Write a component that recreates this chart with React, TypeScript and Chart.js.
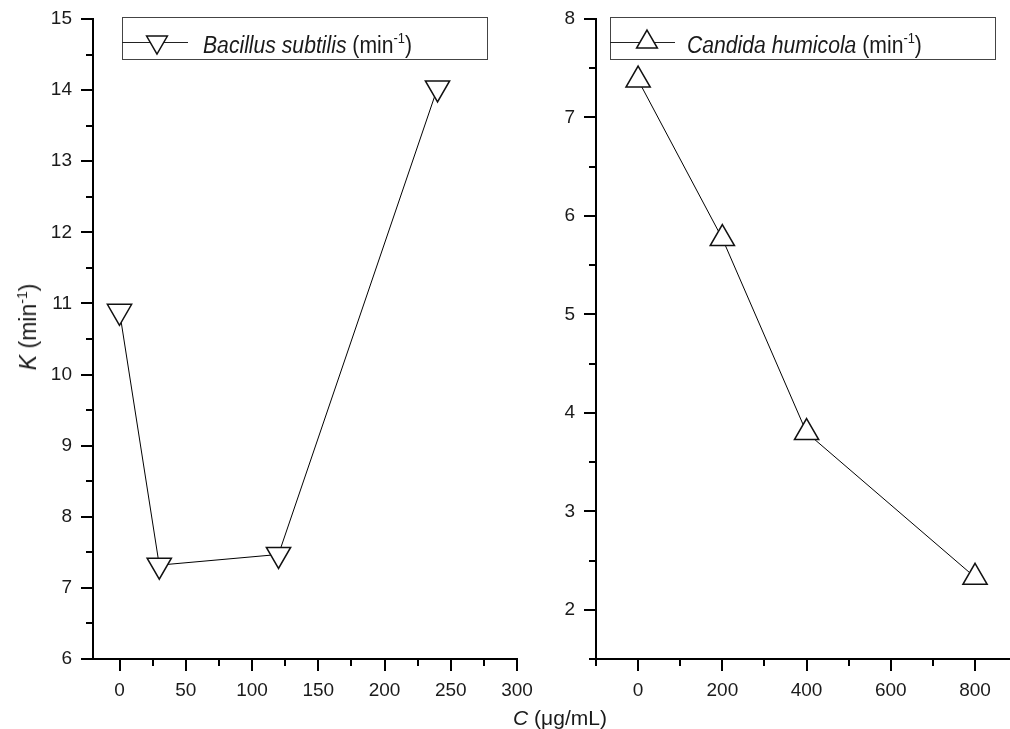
import React, { useEffect, useRef } from "react";
import { Chart, registerables } from "chart.js";

Chart.register(...registerables);

// ---------- data ----------
const bacillusC = [0, 30, 120, 240];
const bacillusK = [10.89, 7.32, 7.47, 14.03];
const candidaC = [0, 200, 400, 800];
const candidaK = [7.38, 5.77, 3.8, 2.33];

const bacillusName = "Bacillus subtilis";
const candidaName = "Candida humicola";
const unitText = " (min";
const unitSup = "-1";

// ---------- axis ticks ----------
const leftXMajor = [0, 50, 100, 150, 200, 250, 300];
const leftXMinor = [25, 75, 125, 175, 225, 275];
const leftYMajor = [6, 7, 8, 9, 10, 11, 12, 13, 14, 15];
const leftYMinor = [6.5, 7.5, 8.5, 9.5, 10.5, 11.5, 12.5, 13.5, 14.5];
const rightXMajor = [0, 200, 400, 600, 800];
const rightXMinor = [-100, 100, 300, 500, 700];
const rightYMajor = [2, 3, 4, 5, 6, 7, 8];
const rightYMinor = [1.5, 2.5, 3.5, 4.5, 5.5, 6.5, 7.5];

const FONT = '"Liberation Sans", Arial, sans-serif';

const tickMarksPlugin = {
  id: "tickMarks",
  afterDraw(chart: any, _args: any, opts: any) {
    const { ctx, chartArea, scales } = chart;
    ctx.save();
    ctx.strokeStyle = "#000";
    ctx.lineWidth = 2;
    const drawX = (vals: number[], len: number) =>
      vals.forEach((v) => {
        const px = Math.round(scales.x.getPixelForValue(v));
        ctx.beginPath();
        ctx.moveTo(px, chartArea.bottom);
        ctx.lineTo(px, chartArea.bottom + len);
        ctx.stroke();
      });
    const drawY = (vals: number[], len: number) =>
      vals.forEach((v) => {
        const py = Math.round(scales.y.getPixelForValue(v));
        ctx.beginPath();
        ctx.moveTo(chartArea.left, py);
        ctx.lineTo(chartArea.left - len, py);
        ctx.stroke();
      });
    drawX(opts.xMajor, 12);
    drawX(opts.xMinor, 7);
    drawY(opts.yMajor, 12);
    drawY(opts.yMinor, 7);
    ctx.restore();
  },
};

const legendPlugin = {
  id: "boxLegend",
  afterDraw(chart: any, _args: any, opts: any) {
    const { ctx } = chart;
    ctx.save();
    // box
    ctx.strokeStyle = "#444";
    ctx.lineWidth = 1;
    ctx.strokeRect(opts.x1 + 0.5, opts.y1 + 0.5, opts.x2 - opts.x1, opts.y2 - opts.y1);
    // sample line
    ctx.strokeStyle = "#222";
    ctx.beginPath();
    ctx.moveTo(opts.x1, opts.lineY + 0.5);
    ctx.lineTo(opts.lineX2, opts.lineY + 0.5);
    ctx.stroke();
    // marker
    const r = opts.r;
    const rad0 = (opts.rotation * Math.PI) / 180;
    const cx = opts.markerX;
    const cy = opts.lineY;
    ctx.beginPath();
    for (let i = 0; i < 3; i++) {
      const a = rad0 + (i * 2 * Math.PI) / 3;
      const px = cx + Math.sin(a) * r;
      const py = cy - Math.cos(a) * r;
      if (i === 0) ctx.moveTo(px, py);
      else ctx.lineTo(px, py);
    }
    ctx.closePath();
    ctx.fillStyle = "#fff";
    ctx.fill();
    ctx.lineWidth = 1.5;
    ctx.strokeStyle = "#111";
    ctx.stroke();
    // text (slightly condensed, as in the source figure)
    const sx = 0.92;
    ctx.translate(opts.textX, opts.baseline);
    ctx.scale(sx, 1);
    ctx.fillStyle = "#1a1a1a";
    ctx.textBaseline = "alphabetic";
    ctx.textAlign = "left";
    let x = 0;
    ctx.font = `italic 23px ${FONT}`;
    ctx.fillText(opts.name, x, 0);
    x += ctx.measureText(opts.name).width;
    ctx.font = `23px ${FONT}`;
    ctx.fillText(unitText, x, 0);
    x += ctx.measureText(unitText).width;
    ctx.font = `14px ${FONT}`;
    ctx.fillText(unitSup, x, -10);
    x += ctx.measureText(unitSup).width;
    ctx.font = `23px ${FONT}`;
    ctx.fillText(")", x, 0);
    ctx.restore();
  },
};

function makeConfig(p: any) {
  return {
    type: "line",
    data: {
      datasets: [
        {
          data: p.xs.map((x: number, i: number) => ({ x, y: p.ys[i] })),
          borderColor: "#000",
          borderWidth: 1,
          pointStyle: "triangle",
          pointRotation: p.rotation,
          pointRadius: 14,
          pointHoverRadius: 14,
          pointBorderWidth: 1.5,
          pointBorderColor: "#111",
          pointBackgroundColor: "#fff",
          tension: 0,
          fill: false,
          clip: false,
        },
      ],
    },
    options: {
      animation: false,
      responsive: false,
      events: [],
      layout: { padding: p.padding, autoPadding: false },
      plugins: {
        legend: { display: false },
        tooltip: { enabled: false },
        tickMarks: { xMajor: p.xMajor, xMinor: p.xMinor, yMajor: p.yMajor, yMinor: p.yMinor },
        boxLegend: p.legend,
      },
      scales: {
        x: {
          type: "linear",
          min: p.xMin,
          max: p.xMax,
          grid: { display: false, drawTicks: false },
          border: { display: true, color: "#000", width: 2 },
          afterBuildTicks: (s: any) => {
            s.ticks = p.xMajor.map((v: number) => ({ value: v }));
          },
          afterFit: (s: any) => {
            s.height = p.xHeight;
            s.paddingLeft = 0;
            s.paddingRight = 0;
          },
          ticks: {
            color: "#1a1a1a",
            font: { family: FONT, size: 19 },
            padding: 20,
            maxRotation: 0,
            autoSkip: false,
          },
        },
        y: {
          type: "linear",
          min: p.yMin,
          max: p.yMax,
          grid: { display: false, drawTicks: false },
          border: { display: true, color: "#000", width: 2 },
          afterBuildTicks: (s: any) => {
            s.ticks = p.yMajor.map((v: number) => ({ value: v }));
          },
          afterFit: (s: any) => {
            s.width = p.yWidth;
            s.paddingTop = 0;
            s.paddingBottom = 0;
          },
          ticks: {
            color: "#1a1a1a",
            font: { family: FONT, size: 19 },
            padding: 21,
            autoSkip: false,
          },
        },
      },
    },
    plugins: [tickMarksPlugin, legendPlugin],
  };
}

function Panel(props: any) {
  const ref = useRef<HTMLCanvasElement | null>(null);
  useEffect(() => {
    if (!ref.current) return;
    const chart = new Chart(ref.current, makeConfig(props.cfg) as any);
    return () => chart.destroy();
  }, []);
  return (
    <canvas
      ref={ref}
      width={props.w}
      height={729}
      style={{ position: "absolute", left: props.left, top: 0, width: props.w, height: 729 }}
    />
  );
}

const leftCfg = {
  xs: bacillusC,
  ys: bacillusK,
  rotation: 180,
  xMin: -20,
  xMax: 300,
  yMin: 6,
  yMax: 15,
  xMajor: leftXMajor,
  xMinor: leftXMinor,
  yMajor: leftYMajor,
  yMinor: leftYMinor,
  padding: { left: 0, top: 19, right: 23, bottom: 0 },
  yWidth: 93,
  xHeight: 70,
  legend: {
    x1: 122,
    y1: 17,
    x2: 487,
    y2: 59,
    lineY: 42,
    lineX2: 188,
    markerX: 157,
    r: 12,
    rotation: 180,
    textX: 203,
    baseline: 53,
    name: bacillusName,
  },
};

const rightCfg = {
  xs: candidaC,
  ys: candidaK,
  rotation: 0,
  xMin: -100,
  xMax: 883,
  yMin: 1.5,
  yMax: 8,
  xMajor: rightXMajor,
  xMinor: rightXMinor,
  yMajor: rightYMajor,
  yMinor: rightYMinor,
  padding: { left: 0, top: 19, right: 0, bottom: 0 },
  yWidth: 56,
  xHeight: 70,
  legend: {
    x1: 70,
    y1: 17,
    x2: 455,
    y2: 59,
    lineY: 42,
    lineX2: 135,
    markerX: 107,
    r: 12,
    rotation: 0,
    textX: 147,
    baseline: 53,
    name: candidaName,
  },
};

export default function App() {
  return (
    <div
      style={{
        position: "fixed",
        left: 0,
        top: 0,
        width: 1010,
        height: 729,
        background: "#fff",
        overflow: "hidden",
        fontFamily: FONT,
        color: "#1a1a1a",
      }}
    >
      <Panel left={0} w={540} cfg={leftCfg} />
      <Panel left={540} w={470} cfg={rightCfg} />
      <div
        style={{
          position: "absolute",
          left: 28,
          top: 327,
          transform: "translate(-50%, -50%) rotate(-90deg)",
          whiteSpace: "nowrap",
          fontSize: 23,
          lineHeight: "26px",
        }}
      >
        <i>K</i> (min<sup style={{ fontSize: 14, verticalAlign: "9px", lineHeight: 0 }}>-1</sup>)
      </div>
      <div
        style={{
          position: "absolute",
          left: 560,
          top: 718,
          transform: "translate(-50%, -50%)",
          whiteSpace: "nowrap",
          fontSize: 21,
          lineHeight: "24px",
        }}
      >
        <i>C</i> (μg/mL)
      </div>
    </div>
  );
}
